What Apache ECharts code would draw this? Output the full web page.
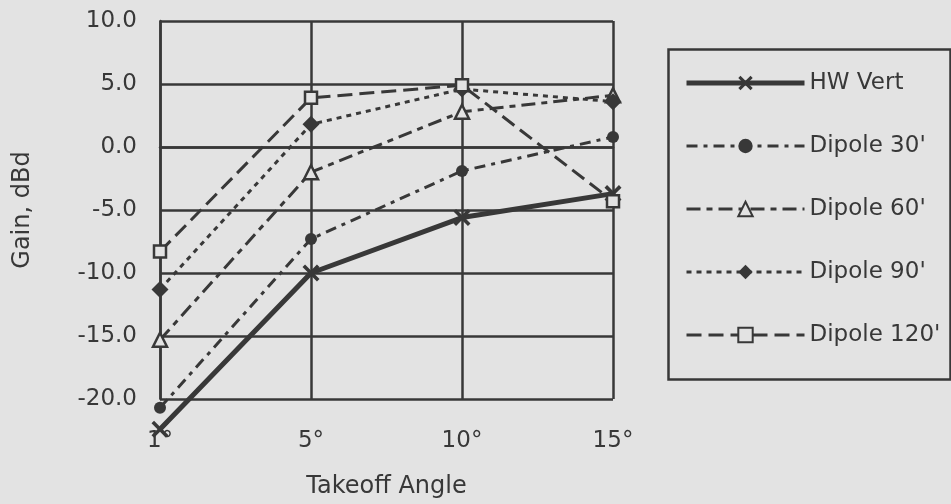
<!DOCTYPE html>
<html><head><meta charset="utf-8">
<script src="https://cdn.jsdelivr.net/npm/echarts@6/dist/echarts.min.js"></script>
<style>html,body{margin:0;padding:0;background:#e3e3e3}#c{width:951px;height:504px}</style>
</head><body><div id="c"></div>
<script>
// ---- data ----
const categories = ['1°', '5°', '10°', '15°'];
const seriesNames = ['HW Vert', "Dipole 30'", "Dipole 60'", "Dipole 90'", "Dipole 120'"];
const hwVert    = [-22.4, -10.0, -5.6, -3.7];
const dipole30  = [-20.7, -7.3, -1.9, 0.8];
const dipole60  = [-15.3, -2.0, 2.8, 4.1];
const dipole90  = [-11.3, 1.8, 4.6, 3.6];
const dipole120 = [-8.3, 3.9, 4.9, -4.3];
const yMin = -20, yMax = 10, yStep = 5;
const xTitle = 'Takeoff Angle';
const yTitle = 'Gain, dBd';

// ---- styling ----
const ink = '#383838';
const bg = '#e3e3e3';
const font = 'DejaVu Sans';
const xSymbol = 'path://M0,1.5 L1.5,0 L5,3.5 L8.5,0 L10,1.5 L6.5,5 L10,8.5 L8.5,10 L5,6.5 L1.5,10 L0,8.5 L3.5,5 Z';
const lineWidths = [5, 3, 3, 3, 3];

function mk(name, data, opts) {
  return Object.assign({
    name: name, type: 'line', data: data, clip: false,
    showAllSymbol: true, symbolKeepAspect: true,
    emphasis: { disabled: true }, animation: false
  }, opts);
}

const series = [
  mk(seriesNames[0], hwVert, {
    symbol: xSymbol, symbolSize: 17,
    lineStyle: { color: ink, width: lineWidths[0], type: 'solid' },
    itemStyle: { color: ink }
  }),
  mk(seriesNames[1], dipole30, {
    symbol: 'circle', symbolSize: 12,
    lineStyle: { color: ink, width: lineWidths[1], type: [11, 6, 4, 6] },
    itemStyle: { color: ink }
  }),
  mk(seriesNames[2], dipole60, {
    symbol: 'triangle', symbolSize: 14,
    lineStyle: { color: ink, width: lineWidths[2], type: [14, 6, 6, 6] },
    itemStyle: { color: bg, borderColor: ink, borderWidth: 2.5 }
  }),
  mk(seriesNames[3], dipole90, {
    symbol: 'diamond', symbolSize: [17, 17],
    lineStyle: { color: ink, width: lineWidths[3], type: [5, 5] },
    itemStyle: { color: ink }
  }),
  mk(seriesNames[4], dipole120, {
    symbol: 'rect', symbolSize: 12,
    lineStyle: { color: ink, width: lineWidths[4], type: [15, 7] },
    itemStyle: { color: bg, borderColor: ink, borderWidth: 2.5 }
  })
];

const chart = echarts.init(document.getElementById('c'), null, { renderer: 'canvas' });
chart.setOption({
  backgroundColor: bg,
  animation: false,
  textStyle: { fontFamily: font, color: ink },
  grid: { left: 160, right: 338, top: 21, bottom: 101, containLabel: false },
  xAxis: {
    type: 'category', data: categories, boundaryGap: false,
    name: xTitle, nameLocation: 'middle', nameGap: 76,
    nameTextStyle: { fontFamily: font, fontSize: 24, color: ink },
    axisLine: { show: true, lineStyle: { color: ink, width: 2.5 } },
    axisTick: { show: false },
    axisLabel: { fontFamily: font, fontSize: 23, color: ink, margin: 31 },
    splitLine: { show: true, lineStyle: { color: ink, width: 2.5 } }
  },
  yAxis: {
    type: 'value', min: yMin, max: yMax, interval: yStep,
    name: yTitle, nameLocation: 'middle', nameGap: 125, nameRotate: 90,
    nameTextStyle: { fontFamily: font, fontSize: 24, color: ink },
    axisLine: { show: true, lineStyle: { color: ink, width: 2.5 } },
    axisTick: { show: false },
    axisLabel: { fontFamily: font, fontSize: 23, color: ink, margin: 23,
      formatter: v => v.toFixed(1) },
    splitLine: { show: true, lineStyle: { color: ink, width: 2.5 } }
  },
  legend: {
    orient: 'vertical', left: 684, top: 71, padding: 0,
    itemWidth: 118, itemHeight: 18, itemGap: 39,
    data: seriesNames.map((n, i) => ({ name: n, lineStyle: { width: lineWidths[i] } })),
    textStyle: { fontFamily: font, fontSize: 23, color: ink, lineHeight: 24 },
    selectedMode: false
  },
  graphic: [{
    type: 'rect', left: 666, top: 47,
    shape: { width: 282, height: 330 },
    style: { fill: 'none', stroke: ink, lineWidth: 2.5 }
  }],
  series: series
});
</script></body></html>
